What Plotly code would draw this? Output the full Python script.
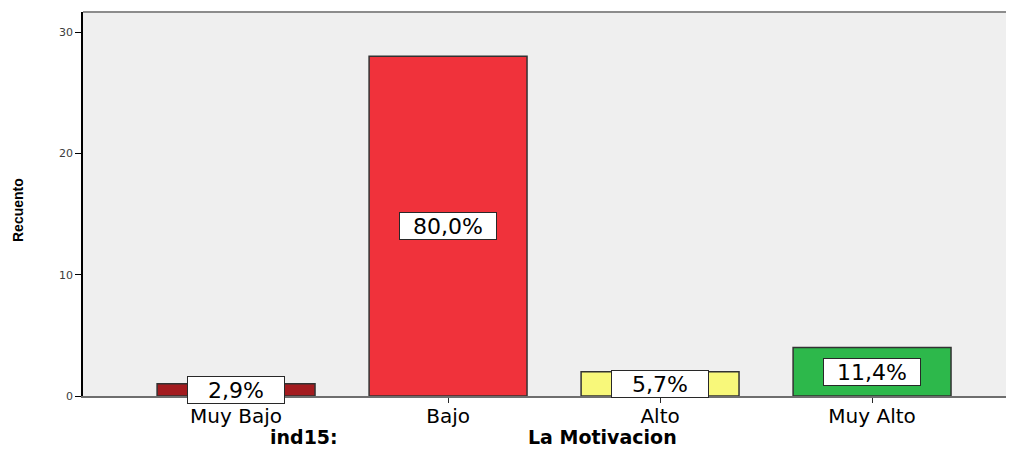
import plotly.graph_objects as go

categories = ["Muy Bajo", "Bajo", "Alto", "Muy Alto"]
counts = [1, 28, 2, 4]
percent_labels = ["2,9%", "80,0%", "5,7%", "11,4%"]
bar_colors = ["#a31b1f", "#f0323b", "#f8f87a", "#2db84b"]
y_ticks = [0, 10, 20, 30]

# page is offset by the body margin (8px); layout values are in figure pixels
OFF = 8
L, T, PW, PH = 83 - OFF, 12 - OFF, 939, 384
W, H = L + PW, 450 - OFF
X_PITCH = 212  # pixels per category in the reference


def px(xp):
    return (xp - OFF - L) / PW


def py(yp):
    return (T + PH - (yp - OFF)) / PH


fig = go.Figure()
fig.add_trace(go.Bar(
    x=categories, y=counts,
    marker=dict(color=bar_colors, line=dict(color="rgb(50,50,50)", width=1.5)),
    width=0.745,
    hoverinfo="skip",
))

for cat, val, lab in zip(categories, counts, percent_labels):
    fig.add_annotation(
        x=cat, y=val / 2, xref="x", yref="y", text=lab, showarrow=False,
        font=dict(family="DejaVu Sans, Arial", size=22, color="black"),
        bgcolor="white", bordercolor="rgb(40,40,40)", borderwidth=1,
        borderpad=1, width=94, height=24,
    )

fig.add_annotation(
    x=px(268), y=py(437), xref="paper", yref="paper",
    text="<b>ind15:</b>", showarrow=False, xanchor="left", yanchor="middle",
    font=dict(family="DejaVu Sans, Arial", size=19, color="black"),
)
fig.add_annotation(
    x=px(526), y=py(437), xref="paper", yref="paper",
    text="<b>La Motivacion</b>", showarrow=False, xanchor="left", yanchor="middle",
    font=dict(family="DejaVu Sans, Arial", size=19, color="black"),
)
# y-axis title
fig.add_annotation(
    x=px(18), y=py(210), xref="paper", yref="paper",
    text="<b>Recuento</b>", showarrow=False, textangle=-90,
    xanchor="center", yanchor="middle",
    font=dict(family="Liberation Sans Narrow, Arial Narrow, Arial", size=14, color="black"),
)

x0 = -0.722
fig.update_layout(
    width=W, height=H,
    margin=dict(l=L, r=0, t=T, b=H - T - PH, autoexpand=False),
    paper_bgcolor="white", plot_bgcolor="#efefef",
    showlegend=False,
    xaxis=dict(
        range=[x0, x0 + PW / X_PITCH], showgrid=False, zeroline=False,
        showline=True, linecolor="rgb(110,110,110)", linewidth=1.5,
        ticks="outside", ticklen=5, tickcolor="rgb(40,40,40)",
        ticklabelstandoff=-4,
        tickfont=dict(family="DejaVu Sans, Arial", size=20, color="black"),
    ),
    yaxis=dict(
        range=[0, 31.65], showgrid=False, zeroline=False,
        tickvals=y_ticks, ticktext=[str(v) for v in y_ticks],
        showline=True, linecolor="black", linewidth=1.5,
        ticks="outside", ticklen=6, tickcolor="black",
        tickfont=dict(family="DejaVu Sans, Arial", size=11, color="rgb(60,60,60)"),
    ),
    shapes=[dict(type="line", xref="paper", yref="paper", x0=0, x1=1, y0=1, y1=1,
                 line=dict(color="rgb(140,140,140)", width=2))],
)

fig.write_html("out.html")
